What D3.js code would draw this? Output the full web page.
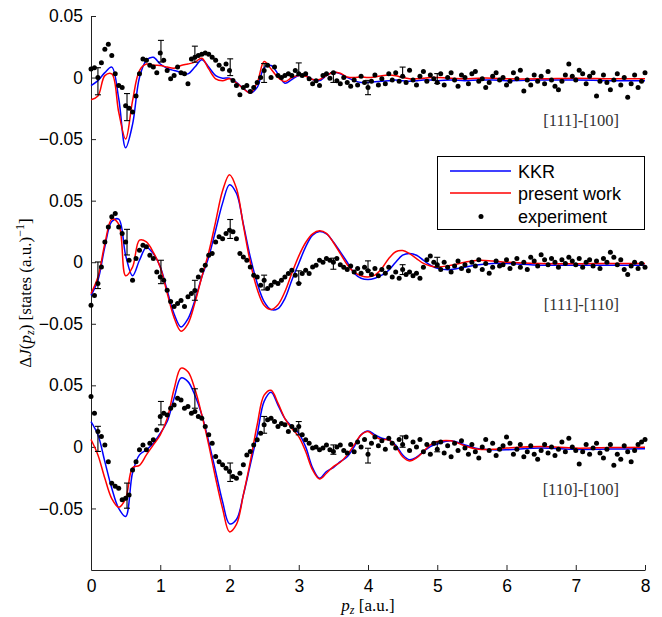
<!DOCTYPE html>
<html>
<head>
<meta charset="utf-8">
<script src="https://cdn.jsdelivr.net/npm/d3@7"></script>
<style>
  body { margin: 0; background: white; }
  svg { display: block; }
</style>
</head>
<body>
<div id="chart"></div>
<script>

// theory curves are sampled on this grid (a.u.)
var curveX = [
  0, 0.1, 0.2, 0.3, 0.4, 0.5, 0.6, 0.7, 0.8, 0.9,
  1, 1.1, 1.2, 1.3, 1.4, 1.5, 1.6, 1.7, 1.8, 1.9,
  2, 2.1, 2.2, 2.3, 2.4, 2.5, 2.6, 2.7, 2.8, 2.9,
  3, 3.1, 3.2, 3.3, 3.4, 3.5, 3.6, 3.7, 3.8, 3.9,
  4, 4.1, 4.2, 4.3, 4.4, 4.5, 4.6, 4.7, 4.8, 4.9,
  5, 5.2, 5.4, 5.6, 5.8, 6, 6.5, 7, 7.5, 8
];

// [111]-[100]
var kkr111_100 = [
  -0.0065, -0.0025, 0.004, 0.0085, -0.017, -0.057, -0.038, 0.0, 0.014, 0.0165,
  0.011, 0.0075, 0.0057, 0.0043, 0.003, 0.0085, 0.0145, 0.0085, 0.0016, -0.0005,
  -0.0005, -0.004, -0.0087, -0.0125, -0.008, 0.008, 0.0098, 0.003, -0.0046, -0.0016,
  0.0016, 0.0016, -0.0016, -0.0025, 0.0016, 0.0043, 0.003, 0.0, -0.0025, -0.004,
  -0.004, -0.0035, -0.003, -0.0025, -0.002, -0.0025, -0.003, -0.0025, -0.002, -0.002,
  -0.0025, -0.002, -0.0025, -0.002, -0.002, -0.0025, -0.002, -0.002, -0.0025, -0.0025
];
var present111_100 = [
  -0.018, -0.015, 0.0016, 0.003, -0.028, -0.05, -0.019, 0.0057, 0.011, 0.01,
  0.0098, 0.0085, 0.0076, 0.0098, 0.011, 0.0125, 0.0157, 0.007, -0.001, -0.0025,
  -0.001, -0.0043, -0.009, -0.0125, -0.004, 0.013, 0.007, 0.0, -0.0033, 0.0,
  0.0016, 0.001, -0.0016, -0.0016, 0.0016, 0.0043, 0.0035, 0.0005, 0.0, 0.0005,
  0.0, 0.0005, 0.0015, 0.002, 0.0015, 0.0, -0.001, -0.001, -0.0005, 0.0,
  0.0, -0.0005, -0.001, -0.0005, -0.0005, -0.001, -0.001, -0.0005, -0.001, -0.001
];

// [111]-[110]
var kkr111_110 = [
  -0.027, -0.0146, 0.0125, 0.033, 0.035, 0.0057, -0.011, 0.0016, 0.012, 0.007,
  -0.0038, -0.023, -0.042, -0.0526, -0.046, -0.031, -0.012, 0.0043, 0.026, 0.048,
  0.063, 0.056, 0.031, 0.0043, -0.017, -0.032, -0.0385, -0.0377, -0.0295, -0.0146,
  -0.001, 0.0125, 0.022, 0.025, 0.023, 0.0165, 0.0084, 0.0, -0.009, -0.013,
  -0.014, -0.013, -0.0105, -0.0065, 0.0, 0.0057, 0.007, 0.0057, 0.0016, -0.0024,
  -0.005, -0.006, -0.004, -0.002, -0.001, -0.001, -0.0024, -0.0024, -0.0024, -0.0024
];
var present111_110 = [
  -0.0255, -0.012, 0.015, 0.035, 0.031, -0.011, -0.004, 0.018, 0.0165, 0.008,
  -0.004, -0.025, -0.045, -0.056, -0.05, -0.033, -0.012, 0.008, 0.033, 0.058,
  0.071, 0.06, 0.03, 0.0, -0.022, -0.035, -0.0385, -0.0345, -0.024, -0.009,
  0.005, 0.016, 0.023, 0.0255, 0.0235, 0.016, 0.007, -0.002, -0.008, -0.011,
  -0.012, -0.0105, -0.005, 0.003, 0.0085, 0.0095, 0.007, 0.003, -0.001, -0.003,
  -0.0038, -0.0024, 0.0, 0.0016, 0.001, 0.0, -0.001, -0.0012, -0.001, -0.001
];

// [110]-[100]
var kkr110_100 = [
  0.0206, 0.0098, -0.012, -0.0336, -0.05, -0.0566, -0.021, -0.0065, -0.0024, 0.003,
  0.011, 0.0206, 0.0396, 0.056, 0.053, 0.042, 0.026, 0.0043, -0.02, -0.0445,
  -0.0625, -0.059, -0.039, -0.0146, 0.0098, 0.037, 0.0444, 0.034, 0.023, 0.0165,
  0.011, 0.0, -0.017, -0.0255, -0.02, -0.0168, -0.012, -0.008, 0.0, 0.0098,
  0.013, 0.0098, 0.007, 0.0057, 0.0016, -0.0065, -0.0105, -0.0084, -0.0038, 0.0003,
  0.0024, 0.0049, 0.0016, -0.0016, -0.0024, -0.0024, -0.001, -0.002, -0.0018, -0.0015
];
var present110_100 = [
  0.006, -0.0065, -0.0255, -0.042, -0.049, -0.042, -0.017, -0.015, -0.0065, 0.0016,
  0.0098, 0.023, 0.047, 0.064, 0.061, 0.047, 0.026, 0.0016, -0.0255, -0.05,
  -0.069, -0.063, -0.039, -0.012, 0.018, 0.042, 0.046, 0.0355, 0.023, 0.015,
  0.0084, -0.0038, -0.0187, -0.026, -0.0214, -0.016, -0.0125, -0.0065, 0.0016, 0.0098,
  0.0125, 0.0084, 0.006, 0.0057, 0.0003, -0.008, -0.0114, -0.009, -0.0038, 0.0016,
  0.0043, 0.0049, 0.0008, -0.002, -0.002, -0.001, 0.0003, -0.001, -0.0005, -0.0003
];

// experiment, one point every EXP_STEP a.u. from 0 to 8
var EXP_STEP = 0.05;
var exp111_100 = [
  0.007, 0.008, 0.0, 0.012, 0.023, 0.027, 0.018, 0.003, -0.0065, -0.008,
  -0.023, -0.025, -0.028, -0.015, 0.003, 0.015, 0.014, 0.01, 0.0085, 0.004,
  0.02, 0.014, 0.0057, -0.001, 0.0016, 0.0085, 0.004, 0.003, -0.005, 0.015,
  0.0165, 0.018, 0.019, 0.02, 0.019, 0.0165, 0.014, 0.01, 0.007, 0.011,
  0.0057, -0.0024, -0.0065, -0.014, -0.008, -0.0065, -0.0114, -0.008, -0.004, 0.0,
  0.0057, 0.01, 0.0, 0.0085, 0.0016, 0.0, 0.0016, 0.003, 0.0016, 0.0057,
  0.003, 0.0016, 0.003, -0.001, -0.005, -0.0025, -0.0065, 0.0016, 0.003, -0.0005,
  0.004, -0.0025, -0.005, 0.0, -0.004, -0.007, -0.002, -0.006, 0.001, -0.004,
  -0.008, -0.003, 0.002, -0.006, -0.001, -0.005, 0.003, -0.002, 0.004, -0.003,
  0.001, -0.004, 0.006, -0.002, -0.006, 0.001, 0.005, -0.003, 0.002, -0.001,
  -0.004, 0.003, -0.006, 0.0, 0.004, -0.002, -0.007, 0.002, 0.0, -0.005,
  0.003, 0.005, -0.003, -0.001, -0.008, -0.004, 0.001, 0.004, -0.002, 0.0,
  -0.006, -0.003, 0.004, -0.001, 0.006, -0.011, -0.002, -0.006, 0.002, -0.003,
  0.001, -0.005, 0.005, -0.002, -0.007, -0.01, -0.003, 0.002, 0.011, 0.001,
  -0.002, 0.006, 0.003, -0.005, 0.001, 0.004, -0.015, -0.003, 0.002, -0.004,
  -0.01, -0.002, 0.003, -0.006, 0.0, -0.016, -0.005, 0.002, -0.008, -0.003,
  0.004
];
var exp111_110 = [
  -0.035, -0.027, -0.0173, -0.0038, 0.0165, 0.0287, 0.0369, 0.0396, 0.0287, 0.0233,
  0.0165, 0.0016, -0.0146, 0.003, 0.0098, 0.0138, 0.0125, 0.0057, 0.003, -0.0079,
  -0.012, -0.0146, -0.0228, -0.032, -0.036, -0.0336, -0.031, -0.036, -0.028, -0.0255,
  -0.023, -0.012, -0.0065, -0.0024, 0.0057, 0.007, 0.0165, 0.0206, 0.019, 0.0233,
  0.026, 0.0247, 0.019, 0.007, 0.0043, 0.0016, -0.0038, -0.0106, -0.012, -0.0187,
  -0.0146, -0.0214, -0.0187, -0.016, -0.0173, -0.0146, -0.012, -0.0092, -0.0065, -0.0106,
  -0.0173, -0.0092, -0.0065, -0.0092, -0.0038, -0.0024, 0.0016, 0.0, 0.003, 0.0016,
  0.0, 0.003, -0.002, -0.004, -0.006, -0.003, -0.008, -0.005, -0.009, -0.004,
  -0.007, -0.01, -0.005, -0.011, -0.006, -0.009, -0.004, -0.012, -0.008, -0.013,
  -0.006, -0.01, -0.008, -0.011, -0.009, -0.013, -0.004, 0.002, 0.005, 0.0,
  -0.002, -0.006, 0.0, -0.004, -0.008, -0.003, 0.001, -0.005, -0.002, -0.007,
  0.0, -0.003, 0.002, -0.006, -0.001, -0.009, -0.004, 0.001, -0.003, -0.002,
  0.002, -0.005, -0.001, 0.003, -0.004, 0.0, -0.006, 0.004, 0.001, -0.003,
  0.006, 0.002, -0.002, 0.003, 0.0, -0.004, 0.002, -0.001, 0.004, 0.001,
  -0.002, 0.003, -0.004, 0.0, 0.002, -0.003, 0.001, -0.005, 0.003, 0.0,
  0.008, 0.004, -0.002, 0.002, -0.006, -0.01, -0.003, 0.0, -0.005, -0.001,
  -0.004
];
var exp110_100 = [
  0.041, 0.0274, 0.0125, 0.0084, 0.0016, -0.012, -0.0295, -0.032, -0.0336, -0.043,
  -0.0417, -0.039, -0.0187, -0.012, -0.0024, 0.0016, -0.0024, 0.003, 0.0057, 0.0138,
  0.0247, 0.0274, 0.026, 0.0314, 0.034, 0.0396, 0.038, 0.0314, 0.0328, 0.0274,
  0.0287, 0.0247, 0.0233, 0.0165, 0.0098, 0.003, -0.0079, -0.012, -0.0146, -0.0173,
  -0.02, -0.024, -0.0255, -0.0214, -0.0146, -0.0065, -0.0038, 0.0016, 0.0057, 0.011,
  0.0179, 0.022, 0.0233, 0.0206, 0.0165, 0.019, 0.0179, 0.0125, 0.0165, 0.0138,
  0.0165, 0.0098, 0.0057, 0.003, -0.001, 0.0, -0.0024, -0.001, 0.0016, -0.0024,
  -0.0038, 0.0, 0.0016, -0.003, -0.005, 0.002, -0.004, 0.004, 0.0, 0.006,
  -0.006, 0.003, 0.008, 0.001, 0.005, -0.002, 0.007, 0.003, -0.001, 0.006,
  0.002, 0.008, -0.003, 0.004, 0.0, 0.006, -0.004, 0.002, -0.006, 0.003,
  -0.002, 0.004, -0.005, 0.001, -0.008, 0.003, -0.003, 0.005, -0.001, -0.006,
  0.002, -0.004, -0.009, 0.0, 0.006, -0.003, 0.003, -0.007, -0.002, 0.001,
  0.008, 0.003, -0.006, -0.002, 0.002, -0.008, -0.004, 0.001, -0.006, -0.01,
  -0.003, 0.002, -0.005, 0.0, -0.007, -0.002, 0.004, -0.004, 0.007, 0.0,
  -0.003, -0.014, -0.004, 0.002, -0.006, -0.001, 0.003, -0.005, -0.009, -0.002,
  0.002, -0.015, -0.006, -0.01, 0.001, -0.004, -0.012, -0.003, 0.002, 0.004,
  0.006
];

// error bars: centre and half length
var errX = [0.1, 0.52, 1.01, 1.5, 2.01, 2.5, 3.0, 3.5, 4.0, 4.5, 5.0];
var errMid111_100 = [-0.003, -0.024, 0.0214, 0.019, 0.0084, 0.0037, 0.0068, 0.0, -0.0081, 0.0045, -0.0008];
var errHalf111_100 = [0.011, 0.011, 0.0088, 0.0065, 0.0068, 0.0077, 0.0051, 0.004, 0.0058, 0.004, 0.004];
var errMid111_110 = [-0.0106, 0.0163, -0.0079, -0.0228, 0.027, -0.0165, -0.012, -0.0012, -0.0027, -0.006, 0.0];
var errHalf111_110 = [0.0108, 0.0104, 0.0095, 0.0081, 0.0077, 0.006, 0.005, 0.0045, 0.0038, 0.004, 0.004];
var errMid110_100 = [0.0065, -0.0396, 0.0274, 0.0393, -0.0206, 0.0179, 0.0152, -0.0022, -0.0071, 0.0043, 0.0];
var errHalf110_100 = [0.0102, 0.0102, 0.0095, 0.0079, 0.0075, 0.0068, 0.0054, 0.0038, 0.006, 0.0046, 0.004];

var panelNames = ["[111]-[100]", "[111]-[110]", "[110]-[100]"];
var panelOffsets = [0.3, 0.15, 0];   // vertical shift of each panel
var panelTicks = [-0.05, 0, 0.05];
var xTicks = [0, 1, 2, 3, 4, 5, 6, 7, 8];
var legendLabels = ["KKR", "present work", "experiment"];

var
  WIDTH = 662,
  HEIGHT = 617,
  LEFT = 91,
  RIGHT = 645,
  TOP = 16,
  BOTTOM = 570,
  DOT_RADIUS = 2.5,
  KKR_COLOR = "#0000ff",
  PRESENT_COLOR = "#ff0000",
  SANS = "'Liberation Sans', Arial, Helvetica, sans-serif",
  SERIF = "'Liberation Serif', 'Times New Roman', serif";

var panels = [
  { name: panelNames[0], offset: panelOffsets[0], kkr: kkr111_100, present: present111_100,
    exp: exp111_100, errMid: errMid111_100, errHalf: errHalf111_100 },
  { name: panelNames[1], offset: panelOffsets[1], kkr: kkr111_110, present: present111_110,
    exp: exp111_110, errMid: errMid111_110, errHalf: errHalf111_110 },
  { name: panelNames[2], offset: panelOffsets[2], kkr: kkr110_100, present: present110_100,
    exp: exp110_100, errMid: errMid110_100, errHalf: errHalf110_100 }
];

var x = d3.scaleLinear().domain([0, 8]).range([LEFT, RIGHT]);
var y = d3.scaleLinear().domain([-0.1, 0.35]).range([BOTTOM, TOP]);

var svg = d3.select("#chart").append("svg")
  .attr("width", WIDTH)
  .attr("height", HEIGHT);

svg.append("rect").attr("width", WIDTH).attr("height", HEIGHT).attr("fill", "white");

function minus(s){ return s.replace("-", "\u2212"); }

// y ticks: each panel repeats -0.05, 0, 0.05 around its own zero
var yTickValues = [], yTickLabels = {};
panels.forEach(function(p){
  panelTicks.forEach(function(t){
    var v = +(p.offset + t).toFixed(3);
    yTickValues.push(v);
    yTickLabels[v] = minus(t === 0 ? "0" : d3.format(".2f")(t));
  });
});

var yAxis = d3.axisLeft(y)
  .tickValues(yTickValues)
  .tickFormat(function(v){ return yTickLabels[+v.toFixed(3)]; })
  .tickSizeInner(-5)
  .tickSizeOuter(0)
  .tickPadding(8);

var xAxis = d3.axisBottom(x)
  .tickValues(xTicks)
  .tickFormat(d3.format("d"))
  .tickSizeInner(-5)
  .tickSizeOuter(0)
  .tickPadding(10);

function styleAxis(g){
  g.selectAll("path, line").attr("stroke", "#222").attr("stroke-width", 1);
  g.selectAll("text").attr("font-family", SANS).attr("font-size", 17.5).attr("fill", "black");
}

svg.append("g").attr("transform", "translate(" + LEFT + ",0)").call(yAxis).call(styleAxis);
svg.append("g").attr("transform", "translate(0," + BOTTOM + ")").call(xAxis).call(styleAxis);

var line = d3.line().curve(d3.curveCatmullRom.alpha(0.5));

function drawPanel(p){
  var g = svg.append("g");

  g.append("path")
    .attr("d", line(curveX.map(function(cx, i){ return [x(cx), y(p.offset + p.kkr[i])]; })))
    .attr("fill", "none").attr("stroke", KKR_COLOR).attr("stroke-width", 1.5);

  g.append("path")
    .attr("d", line(curveX.map(function(cx, i){ return [x(cx), y(p.offset + p.present[i])]; })))
    .attr("fill", "none").attr("stroke", PRESENT_COLOR).attr("stroke-width", 1.5);

  g.append("g").selectAll("circle")
    .data(p.exp)
    .join("circle")
    .attr("cx", function(d, i){ return x(i * EXP_STEP); })
    .attr("cy", function(d){ return y(p.offset + d); })
    .attr("r", DOT_RADIUS)
    .attr("fill", "black");

  var bars = g.append("g").attr("stroke", "black").attr("stroke-width", 1.1);
  errX.forEach(function(ex, i){
    var cx = x(ex),
      top = y(p.offset + p.errMid[i] + p.errHalf[i]),
      bottom = y(p.offset + p.errMid[i] - p.errHalf[i]);
    bars.append("line").attr("x1", cx).attr("x2", cx).attr("y1", top).attr("y2", bottom);
    bars.append("line").attr("x1", cx - 3).attr("x2", cx + 3).attr("y1", top).attr("y2", top);
    bars.append("line").attr("x1", cx - 3).attr("x2", cx + 3).attr("y1", bottom).attr("y2", bottom);
  });

  g.append("text")
    .attr("x", 619)
    .attr("y", y(p.offset) + 48)
    .attr("text-anchor", "end")
    .attr("font-family", SERIF)
    .attr("font-size", 16.5)
    .attr("fill", "#333")
    .text(p.name);
}

panels.forEach(drawPanel);

// legend
var legend = svg.append("g");
legend.append("rect")
  .attr("x", 437.5).attr("y", 156.5).attr("width", 207).attr("height", 73)
  .attr("fill", "white").attr("stroke", "black").attr("stroke-width", 1);

var legendY = [171, 193, 216.5];
legendLabels.forEach(function(label, i){
  if (i < 2) {
    legend.append("line")
      .attr("x1", 450).attr("x2", 511).attr("y1", legendY[i]).attr("y2", legendY[i])
      .attr("stroke", i === 0 ? KKR_COLOR : PRESENT_COLOR).attr("stroke-width", 1.5);
  } else {
    legend.append("circle").attr("cx", 481).attr("cy", legendY[i]).attr("r", DOT_RADIUS).attr("fill", "black");
  }
  legend.append("text")
    .attr("x", 518).attr("y", legendY[i] + 6.5)
    .attr("font-family", SANS).attr("font-size", 18)
    .text(label);
});

// axis labels
var yLabel = svg.append("text")
  .attr("transform", "translate(31,293) rotate(-90)")
  .attr("text-anchor", "middle")
  .attr("font-family", SERIF)
  .attr("font-size", 17);
yLabel.append("tspan").text("\u0394");
yLabel.append("tspan").attr("font-style", "italic").text("J");
yLabel.append("tspan").text("(");
yLabel.append("tspan").attr("font-style", "italic").text("p");
yLabel.append("tspan").attr("font-style", "italic").attr("font-size", 12).attr("dy", 3).text("z");
yLabel.append("tspan").attr("dy", -3).text(") [states (a.u.)");
yLabel.append("tspan").attr("font-size", 12).attr("dy", -7).text("\u22121");
yLabel.append("tspan").attr("dy", 7).text("]");

var xLabel = svg.append("text")
  .attr("x", 368).attr("y", 611)
  .attr("text-anchor", "middle")
  .attr("font-family", SERIF)
  .attr("font-size", 17);
xLabel.append("tspan").attr("font-style", "italic").text("p");
xLabel.append("tspan").attr("font-style", "italic").attr("font-size", 12).attr("dy", 3).text("z");
xLabel.append("tspan").attr("dy", -3).text(" [a.u.]");

</script>
</body>
</html>
